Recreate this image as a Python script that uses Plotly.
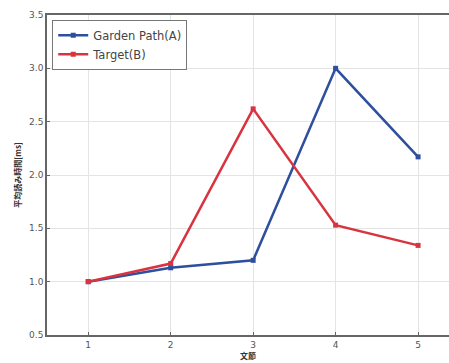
import plotly.graph_objects as go

x_vals = [1, 2, 3, 4, 5]
garden_path = [1.0, 1.13, 1.2, 3.0, 2.17]
target = [1.0, 1.17, 2.62, 1.53, 1.34]
y_ticks = [0.5, 1.0, 1.5, 2.0, 2.5, 3.0, 3.5]
y_ticktext = ["0.5", "1.0", "1.5", "2.0", "2.5", "3.0", "3.5"]

fig = go.Figure()
fig.add_trace(go.Scatter(x=x_vals, y=garden_path, mode="lines+markers", name="Garden Path(A)",
                         line=dict(color="#2d4f9e", width=2.5),
                         marker=dict(symbol="square", size=5, color="#2d4f9e")))
fig.add_trace(go.Scatter(x=x_vals, y=target, mode="lines+markers", name="Target(B)",
                         line=dict(color="#d8343f", width=2.5),
                         marker=dict(symbol="square", size=5, color="#d8343f")))

fig.update_layout(
    width=449, height=363,
    margin=dict(l=47, r=0, t=15, b=28),
    paper_bgcolor="white", plot_bgcolor="white",
    font=dict(family="DejaVu Sans", color="#555555", size=9),
    legend=dict(x=0.013, y=0.985, xanchor="left", yanchor="top",
                bgcolor="white", bordercolor="#777777", borderwidth=1,
                font=dict(size=11.5, color="#444444"), tracegroupgap=0),
    showlegend=True,
)
fig.update_xaxes(range=[0.5, 5.375], tickvals=x_vals, ticktext=[str(v) for v in x_vals],
                 showgrid=True, gridcolor="#e4e4e4", gridwidth=1,
                 showline=True, linecolor="#666666", linewidth=1.5, mirror=True,
                 ticks="inside", ticklen=3, tickcolor="#666666",
                 zeroline=False, automargin=False,
                 title=dict(text="<b>文節</b>", font=dict(family="Noto Sans CJK JP", size=8, color="#333333"), standoff=2))
fig.update_yaxes(range=[0.5, 3.5], tickvals=y_ticks, ticktext=y_ticktext,
                 showgrid=True, gridcolor="#e4e4e4", gridwidth=1,
                 showline=True, linecolor="#666666", linewidth=1.5,
                 ticks="inside", ticklen=3, tickcolor="#666666",
                 zeroline=False, automargin=False,
                 title=dict(text="<b>平均読み時間[ms]</b>", font=dict(family="Noto Sans CJK JP", size=8, color="#333333"), standoff=6))

fig.write_html("out.html", config={"displayModeBar": False},
               post_script="document.body.style.margin='0';document.body.style.overflow='hidden';")
